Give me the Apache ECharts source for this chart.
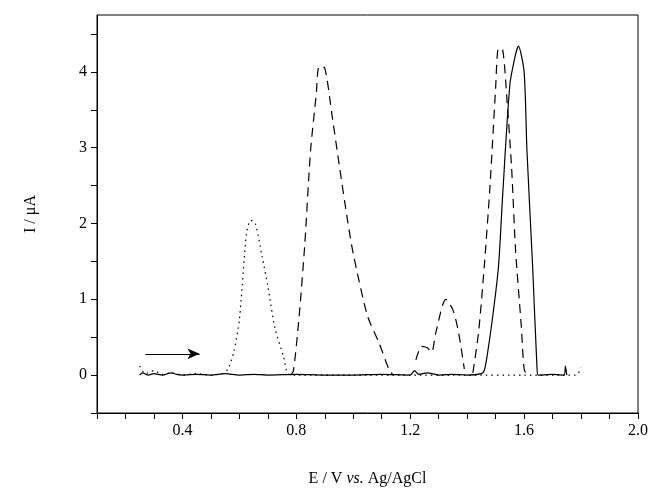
<!DOCTYPE html>
<html>
<head>
<meta charset="utf-8">
<script src="https://cdn.jsdelivr.net/npm/echarts@6/dist/echarts.min.js"></script>
<style>html,body{margin:0;padding:0;background:#fff}#chart{width:651px;height:500px}</style>
</head>
<body>
<div id="chart"></div>
<script>
// dotted trace (first peak ~0.65 V)
var dotted = [
  [0.25, 0.12], [0.27, 0.02], [0.30, 0.06], [0.33, 0.01], [0.36, 0.03], [0.40, 0.0], [0.45, 0.02],
  [0.50, 0.0], [0.54, 0.02], [0.56, 0.08], [0.58, 0.3], [0.60, 0.73], [0.625, 1.87], [0.64, 2.04],
  [0.656, 2.0], [0.68, 1.56], [0.70, 1.17], [0.725, 0.62], [0.756, 0.23], [0.77, 0.02],
  [0.8, 0], [1.0, 0], [1.2, 0], [1.4, 0], [1.6, 0], [1.78, 0], [1.79, 0.02], [1.80, 0.1]
];
// dashed trace (peaks ~0.9, 1.33, 1.53 V)
var dashed = [
  [0.78, 0.0], [0.79, 0.06], [0.81, 0.78], [0.83, 1.74], [0.85, 2.96], [0.87, 3.7], [0.88, 4.07],
  [0.90, 4.05], [0.925, 3.44], [0.95, 2.79], [0.98, 2.04], [1.0, 1.6], [1.05, 0.78], [1.09, 0.43],
  [1.125, 0.08], [1.14, 0.0], null,
  [1.22, 0.2], [1.24, 0.38], [1.26, 0.36], [1.275, 0.3], [1.29, 0.56], [1.325, 1.0], [1.35, 0.86],
  [1.37, 0.56], [1.39, 0.08], null,
  [1.42, 0.03], [1.44, 0.56], [1.46, 1.43], [1.48, 2.48], [1.50, 3.79], [1.51, 4.31], [1.525, 4.29],
  [1.54, 3.62], [1.556, 2.74], [1.57, 1.65], [1.59, 0.65], [1.60, 0.08], [1.61, 0.0]
];
// solid trace (peak ~1.59 V)
var solid = [
  [0.25, 0.0], [0.26, 0.03], [0.28, 0.0], [0.30, 0.02], [0.33, 0.0], [0.36, 0.03], [0.38, 0.01],
  [0.40, 0.0], [0.45, 0.01], [0.50, 0.0], [0.55, 0.02], [0.60, 0.0], [0.65, 0.01], [0.70, 0.0],
  [0.80, 0.01], [0.90, 0.0], [1.0, 0.0], [1.1, 0.01], [1.2, 0.0], [1.215, 0.06], [1.23, 0.01],
  [1.26, 0.03], [1.30, 0.0], [1.35, 0.01], [1.40, 0.0], [1.45, 0.02], [1.46, 0.06], [1.47, 0.25],
  [1.49, 0.78], [1.51, 1.43], [1.525, 2.39], [1.55, 3.83], [1.57, 4.23], [1.58, 4.34], [1.60, 4.0],
  [1.61, 2.96], [1.63, 1.43], [1.645, 0.12], [1.65, 0.0], [1.70, 0.01], [1.74, 0.0], [1.745, 0.12], [1.75, 0.0]
];
// scan direction arrow
var arrow = [[0.27, 0.28], [0.46, 0.28]];
var yTicks = [0, 1, 2, 3, 4];

var font = '"Liberation Serif", "DejaVu Serif", serif';
var myChart = echarts.init(document.getElementById('chart'));
function trace(data, type) {
  return {
    type: 'line', data: data, showSymbol: false, connectNulls: false, animation: false, smooth: 0.25,
    lineStyle: { color: '#000', width: 1.2, type: type }
  };
}
var option = {
  backgroundColor: '#fff',
  grid: { left: 97, right: 13, top: 15, bottom: 87 },
  xAxis: {
    type: 'value', min: 0.1, max: 2.0, interval: 0.1,
    name: '{n|E / V }{i|vs.}{n| Ag/AgCl}', nameLocation: 'middle', nameGap: 58,
    nameTextStyle: { rich: { n: { fontFamily: font, fontSize: 16, color: '#000' },
                             i: { fontFamily: font, fontSize: 16, fontStyle: 'italic', color: '#000' } } },
    axisLine: { onZero: false, lineStyle: { color: '#000' } },
    axisTick: { length: 6, lineStyle: { color: '#000' } },
    axisLabel: { fontFamily: font, fontSize: 16, color: '#000', margin: 10,
      formatter: function (v) { var r = Math.round(v * 10); return r % 4 === 0 && r > 0 ? (r / 10).toFixed(1) : ''; } },
    splitLine: { show: false }
  },
  yAxis: {
    type: 'value', min: -0.5, max: 4.75, interval: 0.5,
    name: 'I / μA', nameLocation: 'middle', nameGap: 58,
    nameTextStyle: { fontFamily: font, fontSize: 16, color: '#000' },
    axisLine: { onZero: false, lineStyle: { color: '#000' } },
    axisTick: { length: 6, lineStyle: { color: '#000' } },
    axisLabel: { fontFamily: font, fontSize: 16, color: '#000', margin: 10,
      formatter: function (v) { return yTicks.indexOf(v) >= 0 ? String(v) : ''; }, showMaxLabel: false },
    splitLine: { show: false }
  },
  graphic: [{ type: 'rect', shape: { x: 97, y: 15, width: 541, height: 398 },
    style: { fill: 'none', stroke: '#000', lineWidth: 1 }, silent: true }],
  series: [
    trace(dotted, [1.5, 4]),
    trace(dashed, [9, 6]),
    trace(solid, 'solid'),
    {
      type: 'line', data: [], animation: false,
      markLine: { silent: true, symbol: ['none', 'arrow'], symbolSize: [8, 12], label: { show: false },
        lineStyle: { color: '#000', width: 1.2, type: 'solid' },
        data: [[{ coord: arrow[0] }, { coord: arrow[1] }]] }
    }
  ]
};
myChart.setOption(option);
</script>
</body>
</html>
